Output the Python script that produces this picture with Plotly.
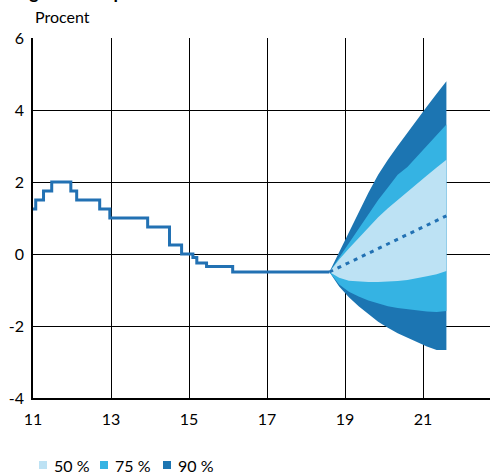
import plotly.graph_objects as go

# Historical repo rate (decimal year, percent) - step changes
hist_x = [11.0, 11.07, 11.27, 11.48, 11.97, 12.12, 12.71, 12.97, 13.94, 14.5, 14.81, 15.1, 15.2, 15.45, 16.12, 18.6]
hist_y = [1.25, 1.5, 1.75, 2.0, 1.75, 1.5, 1.25, 1.0, 0.75, 0.25, 0.0, -0.1, -0.25, -0.35, -0.5, -0.5]

# Forecast (quarterly)
fc_x = [18.6, 18.85, 19.1, 19.35, 19.6, 19.85, 20.1, 20.35, 20.6, 20.85, 21.1, 21.35, 21.6]
fc_mean = [-0.5, -0.37, -0.24, -0.11, 0.02, 0.15, 0.28, 0.41, 0.54, 0.67, 0.80, 0.93, 1.06]
u50 = [-0.5, -0.15, 0.15, 0.45, 0.75, 1.02, 1.27, 1.5, 1.74, 1.97, 2.18, 2.4, 2.62]
l50 = [-0.5, -0.66, -0.74, -0.77, -0.78, -0.78, -0.77, -0.75, -0.72, -0.68, -0.62, -0.56, -0.47]
u75 = [-0.5, -0.1, 0.3, 0.7, 1.1, 1.5, 1.85, 2.2, 2.42, 2.72, 3.03, 3.3, 3.6]
l75 = [-0.5, -0.85, -1.05, -1.18, -1.29, -1.38, -1.45, -1.5, -1.54, -1.57, -1.6, -1.61, -1.58]
u90 = [-0.5, 0.05, 0.6, 1.15, 1.7, 2.2, 2.62, 3.0, 3.37, 3.75, 4.1, 4.45, 4.8]
l90 = [-0.5, -0.9, -1.2, -1.45, -1.67, -1.88, -2.05, -2.2, -2.33, -2.45, -2.57, -2.67, -2.67]

x_ticks = [11, 13, 15, 17, 19, 21]
y_ticks = [-4, -2, 0, 2, 4, 6]
band_labels = ["50 %", "75 %", "90 %"]

C90 = "#1c75b2"
C75 = "#35b3e3"
C50 = "#bde2f4"
CLINE = "#2271b3"
band_colors = [C50, C75, C90]

FONT = "Lato, Carlito, Calibri, sans-serif"

fig = go.Figure()

def band(upper, lower, color):
    fig.add_trace(go.Scatter(
        x=fc_x + fc_x[::-1], y=upper + lower[::-1],
        fill="toself", fillcolor=color, mode="lines",
        line=dict(width=0, color=color), hoverinfo="skip", showlegend=False))

band(u90, l90, C90)
band(u75, l75, C75)
band(u50, l50, C50)

fig.add_trace(go.Scatter(x=hist_x, y=hist_y, mode="lines",
                         line=dict(color=CLINE, width=3, shape="hv"), showlegend=False))
fig.add_trace(go.Scatter(x=fc_x, y=fc_mean, mode="lines",
                         line=dict(color=CLINE, width=3, dash="4px,5px"), showlegend=False))

W, H = 490, 474
ml, mr, mt, mb = 33, 0, 38, 76
pw = W - ml - mr
ph = H - mt - mb

fig.update_layout(
    width=W, height=H,
    margin=dict(l=ml, r=mr, t=mt, b=mb, autoexpand=False),
    plot_bgcolor="white", paper_bgcolor="white",
    font=dict(family=FONT, size=16, color="black"),
    showlegend=False,
    xaxis=dict(range=[11, 11 + pw / 39.0], tickvals=x_ticks, ticktext=[str(v) for v in x_ticks],
               showgrid=True, gridcolor="black", gridwidth=1,
               showline=True, linecolor="black", linewidth=1.5, automargin=False,
               zeroline=False, ticks="", ticklabelstandoff=6, fixedrange=True),
    yaxis=dict(range=[-4, 6], tickvals=y_ticks, ticktext=[str(v) for v in y_ticks],
               showgrid=True, gridcolor="black", gridwidth=1,
               showline=True, linecolor="black", linewidth=1.5, automargin=False,
               zeroline=False, ticks="", ticklabelstandoff=4, fixedrange=True),
)

annotations = [
    dict(text="Procent", xref="paper", yref="paper", x=0, y=(ph + mt - 16) / ph,
         xanchor="left", yanchor="middle", showarrow=False, font=dict(size=16)),
    dict(text="<b>Diagram 1. Reporänta med osäkerhetsintervall</b>", xref="paper", yref="paper",
         x=-ml / pw, y=(ph + mt - 5) / ph, xanchor="left", yanchor="bottom",
         showarrow=False, font=dict(size=18)),
]
shapes = []
leg_sq_x = [39, 100, 163]
leg_y = 465
for i, lab in enumerate(band_labels):
    sx = leg_sq_x[i]
    shapes.append(dict(type="rect", xref="paper", yref="paper",
                       x0=(sx - ml) / pw, x1=(sx + 8 - ml) / pw,
                       y0=(H - mb - leg_y - 4) / ph, y1=(H - mb - leg_y + 4) / ph,
                       fillcolor=band_colors[i], line=dict(width=0)))
    annotations.append(dict(text=lab, xref="paper", yref="paper",
                            x=(sx + 13 - ml) / pw, y=(H - mb - leg_y) / ph,
                            xanchor="left", yanchor="middle", showarrow=False,
                            font=dict(size=16)))
fig.update_layout(annotations=annotations, shapes=shapes)

fig.write_html("out.html", config={"displayModeBar": False},
               post_script="document.body.style.margin='0';document.body.style.overflow='hidden';")
